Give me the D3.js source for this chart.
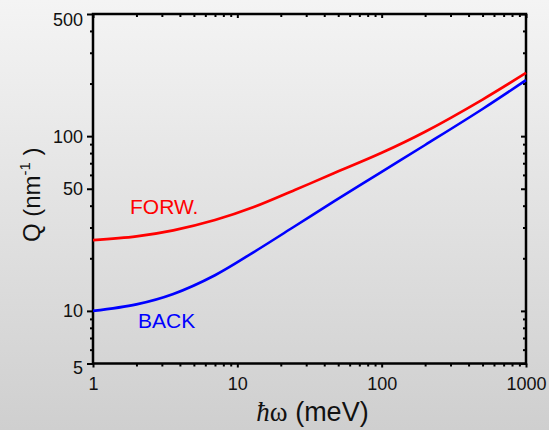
<!DOCTYPE html>
<html><head><meta charset="utf-8">
<script src="https://cdn.jsdelivr.net/npm/d3@7"></script>
<style>body{margin:0;background:#fff;} svg{display:block;}</style>
</head><body>
<svg id="c" width="549" height="430"></svg>
<script>
// ---- data ----
const energy   = [1, 2, 3.6, 7, 13, 25, 47, 100, 200, 500, 1000];
const forward  = [25.4, 26.7, 28.9, 33.1, 39.3, 49.2, 61.5, 80.3, 106, 162, 230];
const backward = [10, 10.9, 12.5, 16, 21.7, 30.5, 42.5, 62.5, 89, 143, 209];
const xMajorTicks = [1, 10, 100, 1000];
const xMinorTicks = [2,3,4,5,6,7,8,9,20,30,40,50,60,70,80,90,200,300,400,500,600,700,800,900];
const yMajorTicks = [5, 10, 50, 100, 500];
const yMinorTicks = [6,7,8,9,20,30,40,60,70,80,90,200,300,400];
const seriesNames = ["FORW.", "BACK"];

const svg = d3.select("#c");
const W = 549, H = 430;
const L = 93, R = 526, T = 14, B = 363.5;
const SANS = "'Liberation Sans', Arial, Helvetica, sans-serif";

// background gradient
const defs = svg.append("defs");
const g = defs.append("linearGradient").attr("id","bg").attr("x1",0).attr("y1",0).attr("x2",0).attr("y2",1);
g.append("stop").attr("offset","0%").attr("stop-color","#f4f4f4");
g.append("stop").attr("offset","100%").attr("stop-color","#cfcfcf");
svg.append("rect").attr("width",W).attr("height",H).attr("fill","url(#bg)");

const x = d3.scaleLog().domain([1,1000]).range([L,R]);
const y = d3.scaleLog().domain([5,500]).range([B,T]);

function styleAxis(sel){
  sel.select(".domain").remove();
  sel.selectAll("line").attr("stroke","#000").attr("stroke-width",2);
  sel.selectAll("text").attr("font-family",SANS).attr("font-size",18).attr("fill","#111");
}
const fmt = d3.format("d");

// left axis (outward)
svg.append("g").attr("transform",`translate(${L},0)`)
  .call(d3.axisLeft(y).tickValues(yMajorTicks).tickFormat(fmt).tickSize(6).tickPadding(4))
  .call(styleAxis)
  .call(s=>s.selectAll("text").attr("dy", d => d===500 ? "0.62em" : (d===5 ? "0.58em" : "0.33em")));
svg.append("g").attr("transform",`translate(${L},0)`)
  .call(d3.axisLeft(y).tickValues(yMinorTicks).tickFormat("").tickSize(3))
  .call(styleAxis);

// bottom axis (outward, short)
svg.append("g").attr("transform",`translate(0,${B})`)
  .call(d3.axisBottom(x).tickValues(xMajorTicks).tickFormat(fmt).tickSize(4).tickPadding(10))
  .call(styleAxis);
svg.append("g").attr("transform",`translate(0,${B})`)
  .call(d3.axisBottom(x).tickValues(xMinorTicks).tickFormat("").tickSize(3))
  .call(styleAxis);

// top axis (inward)
svg.append("g").attr("transform",`translate(0,${T})`)
  .call(d3.axisBottom(x).tickValues(xMajorTicks).tickFormat("").tickSize(4))
  .call(styleAxis);
svg.append("g").attr("transform",`translate(0,${T})`)
  .call(d3.axisBottom(x).tickValues(xMinorTicks).tickFormat("").tickSize(3))
  .call(styleAxis);

// right axis (inward)
svg.append("g").attr("transform",`translate(${R},0)`)
  .call(d3.axisLeft(y).tickValues(yMajorTicks).tickFormat("").tickSize(5))
  .call(styleAxis);
svg.append("g").attr("transform",`translate(${R},0)`)
  .call(d3.axisLeft(y).tickValues(yMinorTicks).tickFormat("").tickSize(3))
  .call(styleAxis);

// frame
svg.append("rect").attr("x",L).attr("y",T).attr("width",R-L).attr("height",B-T)
  .attr("fill","none").attr("stroke","#000").attr("stroke-width",2.5);

// curves
const line = d3.line().x(d=>x(d[0])).y(d=>y(d[1])).curve(d3.curveCatmullRom.alpha(0.5));
const series = [
  {name: seriesNames[0], values: forward, color: "#ff0000"},
  {name: seriesNames[1], values: backward, color: "#0000ff"}
];
svg.append("g").selectAll("path").data(series).join("path")
  .attr("d", s => line(energy.map((e,i)=>[e, s.values[i]])))
  .attr("fill","none").attr("stroke", s=>s.color).attr("stroke-width",2.6);

// series labels
svg.append("text").attr("x",130).attr("y",214).attr("font-family",SANS).attr("font-size",21)
  .attr("fill","#ff0000").text(seriesNames[0]);
svg.append("text").attr("x",138).attr("y",328).attr("font-family",SANS).attr("font-size",21)
  .attr("fill","#0000ff").text(seriesNames[1]);

// x title
const xt = svg.append("text").attr("x",(L+R)/2+3).attr("y",421).attr("text-anchor","middle")
  .attr("font-size",27).attr("fill","#111");
xt.append("tspan").attr("font-family","'Liberation Serif','DejaVu Serif',serif").attr("font-style","italic").text("ħ");
xt.append("tspan").attr("font-family","'Liberation Serif','DejaVu Serif',serif").text("ω");
xt.append("tspan").attr("font-family",SANS).text(" (meV)");

// y title
const yt = svg.append("text").attr("transform",`translate(40,${(T+B)/2+6}) rotate(-90)`)
  .attr("text-anchor","middle").attr("font-family",SANS).attr("font-size",24).attr("fill","#111");
yt.append("tspan").text("Q (nm");
yt.append("tspan").attr("font-size",15).attr("dy",-10).text("-1");
yt.append("tspan").attr("dy",10).text(" )");
</script>
</body></html>
